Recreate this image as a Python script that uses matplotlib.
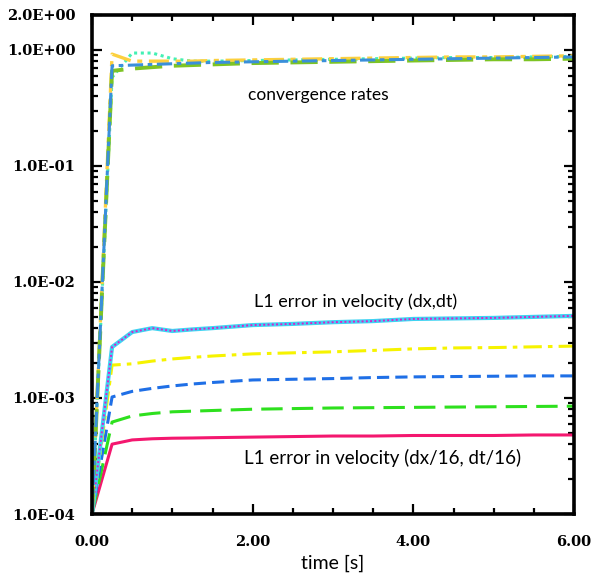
import matplotlib
matplotlib.use("Agg")
import matplotlib.pyplot as plt
from matplotlib.ticker import FixedLocator, LogLocator, MultipleLocator, NullFormatter

# ---------------- data ----------------
time = [0.0, 0.25, 0.5, 0.75, 1.0, 1.25, 1.5, 2.0, 2.5, 3.0, 3.5, 4.0, 4.5, 5.0, 5.5, 6.0]

err_dx = [1e-4, 2.75e-3, 3.7e-3, 4.0e-3, 3.78e-3, 3.9e-3, 4.0e-3, 4.25e-3, 4.35e-3,
          4.5e-3, 4.6e-3, 4.8e-3, 4.85e-3, 4.9e-3, 5.0e-3, 5.1e-3]
err_dx2 = [1e-4, 1.92e-3, 1.97e-3, 2.08e-3, 2.17e-3, 2.24e-3, 2.3e-3, 2.4e-3, 2.45e-3,
           2.5e-3, 2.57e-3, 2.65e-3, 2.7e-3, 2.72e-3, 2.76e-3, 2.8e-3]
err_dx4 = [1e-4, 1.02e-3, 1.14e-3, 1.21e-3, 1.27e-3, 1.32e-3, 1.36e-3, 1.43e-3, 1.45e-3,
           1.47e-3, 1.5e-3, 1.52e-3, 1.53e-3, 1.54e-3, 1.55e-3, 1.55e-3]
err_dx8 = [1e-4, 6.2e-4, 7.0e-4, 7.35e-4, 7.6e-4, 7.7e-4, 7.8e-4, 8.0e-4, 8.1e-4,
           8.2e-4, 8.25e-4, 8.3e-4, 8.35e-4, 8.4e-4, 8.45e-4, 8.5e-4]
err_dx16 = [1e-4, 4.0e-4, 4.35e-4, 4.45e-4, 4.5e-4, 4.52e-4, 4.55e-4, 4.6e-4, 4.65e-4,
            4.7e-4, 4.7e-4, 4.75e-4, 4.75e-4, 4.75e-4, 4.8e-4, 4.8e-4]

rate_1 = [1e-4, 0.92, 0.80, 0.80, 0.80, 0.80, 0.81, 0.82, 0.83, 0.84, 0.85, 0.86, 0.87, 0.87, 0.88, 0.89]
rate_2 = [1e-4, 0.58, 0.94, 0.94, 0.84, 0.80, 0.80, 0.81, 0.82, 0.83, 0.84, 0.85, 0.86, 0.86, 0.87, 0.88]
rate_3 = [1e-4, 0.73, 0.74, 0.75, 0.76, 0.77, 0.78, 0.79, 0.80, 0.81, 0.82, 0.83, 0.84, 0.85, 0.86, 0.87]
rate_4 = [1e-4, 0.66, 0.69, 0.71, 0.73, 0.74, 0.75, 0.77, 0.78, 0.79, 0.80, 0.81, 0.82, 0.83, 0.83, 0.84]

ytick_vals = [1e-4, 1e-3, 1e-2, 1e-1, 1.0, 2.0]
ytick_labels = ["1.0E-04", "1.0E-03", "1.0E-02", "1.0E-01", "1.0E+00", "2.0E+00"]
xtick_vals = [0, 2, 4, 6]
xtick_labels = ["0.00", "2.00", "4.00", "6.00"]

# ---------------- figure ----------------
fig = plt.figure(figsize=(6.04, 5.82), dpi=100)
W, H = 604, 582
L, R, T, B = 92, 574, 15, 514
ax = fig.add_axes([L / W, 1 - B / H, (R - L) / W, (B - T) / H])

# error curves
ax.plot(time, err_dx16, color="#f4176f", lw=2.2, ls="-")
ax.plot(time, err_dx8, color="#2ee01e", lw=2.2, ls=(0, (7, 3)))
ax.plot(time, err_dx4, color="#1f6fe6", lw=2.2, ls=(0, (4, 2)))
ax.plot(time, err_dx2, color="#f6f300", lw=2.2, ls=(0, (6, 2, 1.5, 2)))
ax.plot(time, err_dx, color="#3fd3f2", lw=3.0, ls="-")
ax.plot(time, err_dx, color="#dc1ec8", lw=1.4, ls=(0, (1, 1.2)))

# convergence rates
ax.plot(time, rate_2, color="#43f0b4", lw=2.2, ls=(0, (1, 1.2)))
ax.plot(time, rate_1, color="#fcd03e", lw=2.4, ls=(0, (6, 2, 1.5, 2)))
ax.plot(time, rate_4, color="#7dc424", lw=2.8, ls=(0, (7, 3)))
ax.plot(time, rate_3, color="#3a8fda", lw=2.2, ls=(0, (5, 1.5, 1.5, 1.5)))

ax.set_yscale("log")
ax.set_xlim(0, 6)
ax.set_ylim(1e-4, 2.0)

tickfont = dict(family="DejaVu Serif", weight="bold", size=10.5)
ax.yaxis.set_major_locator(FixedLocator(ytick_vals))
ax.set_yticklabels(ytick_labels, fontdict=tickfont)
ax.yaxis.set_minor_locator(LogLocator(base=10, subs=[2, 3, 4, 5, 6, 7, 8, 9], numticks=20))
ax.yaxis.set_minor_formatter(NullFormatter())
ax.xaxis.set_major_locator(FixedLocator(xtick_vals))
ax.set_xticklabels(xtick_labels, fontdict=tickfont)
ax.xaxis.set_minor_locator(MultipleLocator(0.5))

ax.tick_params(which="both", direction="in", top=True, right=True, width=1.6)
ax.tick_params(which="major", length=7)
ax.tick_params(which="minor", length=4)
ax.tick_params(axis="y", which="major", pad=12)
ax.tick_params(axis="x", which="major", pad=15)

for sp in ax.spines.values():
    sp.set_linewidth(2.6)

labfont = ["Lato", "DejaVu Sans"]
ax.set_xlabel("time [s]", family=labfont, fontsize=14, labelpad=4)

ax.text(1.94, 0.41, "convergence rates", family=labfont, fontsize=12.5, va="center", ha="left")
ax.text(2.02, 6.7e-3, "L1 error in velocity (dx,dt)", family=labfont, fontsize=13, va="center", ha="left")
ax.text(1.89, 3.04e-4, "L1 error in velocity (dx/16, dt/16)", family=labfont, fontsize=13.5, va="center", ha="left")

fig.savefig("out.png", dpi=100, facecolor="white")
